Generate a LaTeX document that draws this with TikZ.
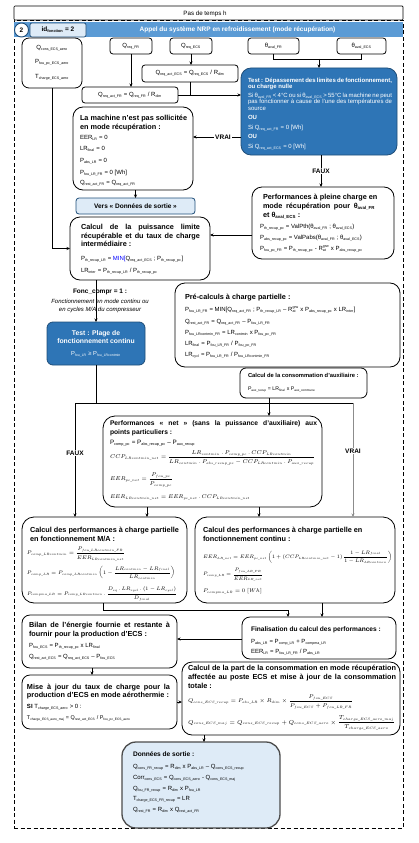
\RequirePackage{fix-cm}
\documentclass[tikz,border=0pt]{standalone}
\usepackage{amsmath}
\usepackage{graphicx}
\usepackage{fontspec}
\setmainfont{Liberation Sans}
\usetikzlibrary{arrows.meta,calc}
\renewcommand\defaultscriptratio{.6}
\renewcommand\defaultscriptscriptratio{.5}
\DeclareMathSizes{5}{5}{3}{2.5}
\DeclareMathSizes{6}{6}{3.6}{3}
\DeclareMathSizes{7}{7}{4.2}{3.5}
\definecolor{barblue}{HTML}{5B9BD5}
\definecolor{dblue}{HTML}{2E75B6}
\definecolor{dborder}{HTML}{1F4E79}
\definecolor{lblue}{HTML}{DEEBF7}
\newcommand\fs[1]{\fontsize{#1}{#1}\selectfont}
\newcommand\su[1]{\textsubscript{#1}}
\newcommand\J[2]{\makebox[#1pt][s]{#2}}
\newcommand\RB[2]{\resizebox{#1pt}{!}{$#2$}}
\newcommand\Rat{R\rlap{\su{at}}\textsuperscript{grw}}
\newcommand\TL[5][]{\node[txt,#1] (#2) at (#3,#4) {#5};}
\tikzset{
  txt/.style={anchor=base west, inner sep=0pt, outer sep=0pt, font=\fs{6}},
  ttl/.style={font=\fs{7.3}\bfseries},
  mth/.style={anchor=west, inner sep=0pt, outer sep=0pt, font=\fs{6.5}},
  bx/.style={draw=black, line width=0.8pt, anchor=north west, inner sep=0pt, outer sep=0pt},
  sbx/.style={bx, rounded corners=3pt, font=\fs{6}},
  arr/.style={-{Stealth[length=3.5pt,width=3pt]}, line width=0.7pt},
  ln/.style={line width=0.7pt},
  lbl/.style={fill=white, inner sep=1pt, font=\fs{6.5}\bfseries},
}
\begin{document}
\begin{tikzpicture}[x=1pt,y=-1pt]
\useasboundingbox (0,0) rectangle (419,843);
% frame and header
\node[bx, dash pattern=on 4pt off 2.5pt, minimum width=389pt, minimum height=808pt] (frame) at (14,20) {};
\node[bx, line width=0.7pt, rounded corners=1pt, minimum width=389pt, minimum height=14pt] (hdr) at (14,6) {};
\node[font=\fs{6.2}] (hdrt) at (205,13.5) {Pas de temps h};
\node[anchor=north west, fill=barblue, minimum width=389pt, minimum height=15pt, inner sep=0pt] (bar) at (14,22) {};
\node[font=\fs{6.5}\bfseries, text=white] (ttl) at (237.5,29.8) {Appel du système NRP en refroidissement (mode récupération)};
\node[bx, draw=dborder, fill=lblue, rounded corners=2pt, line width=0.7pt, minimum width=56pt, minimum height=14pt, font=\fs{6.5}\bfseries] (idb) at (30,23) {id\su{fonction} = 2};
\node[circle, draw=dborder, fill=white, line width=0.9pt, minimum size=14pt, inner sep=0pt, font=\fs{6.5}\bfseries] (num) at (21.5,30) {2};

% top row
\node[bx, rounded corners=7pt, minimum width=60pt, minimum height=50pt] (abox) at (22,38) {};
\node[font=\fs{6}] (a1) at (52,48) {Q\su{cons\_ECS\_aero}};
\node[font=\fs{6}] (a2) at (52,62) {P\su{fou\_pc\_ECS\_aero}};
\node[font=\fs{6}] (a3) at (52,77) {T\su{charge\_ECS\_aero}};
\node[sbx, minimum width=42pt, minimum height=16pt] (qfr) at (110,38) {Q\su{req\_FR}};
\node[sbx, minimum width=42pt, minimum height=16pt] (qecs) at (170,38) {Q\su{req\_ECS}};
\node[sbx, minimum width=51pt, minimum height=16pt] (tfr) at (248,38) {θ\su{aval\_FR}};
\node[sbx, minimum width=49pt, minimum height=16pt] (tecs) at (337,38) {θ\su{aval\_ECS}};
\node[sbx, minimum width=96pt, minimum height=17pt] (qaecs) at (142,65) {Q\su{req\_act\_ECS} = Q\su{req\_ECS} / R\su{dim}};
\node[sbx, minimum width=96pt, minimum height=16pt] (qafr) at (82,87) {Q\su{req\_act\_FR} = Q\su{req\_FR} / R\su{dim}};

% test 1
\node[bx, fill=dblue, draw=dborder, rounded corners=10pt, minimum width=156pt, minimum height=87pt] (test1) at (241,68) {};
\begin{scope}[every node/.append style={text=white, font=\fs{5}}]
\TL{t11}{248}{82}{\J{144}{\bfseries Test : Dépassement des limites de fonctionnement,}}
\TL{t12}{248}{88.5}{\bfseries ou charge nulle}
\TL{t13}{248}{97}{\J{144}{Si θ\su{aval\_FR} < 4°C ou si θ\su{aval\_ECS} > 55°C la machine ne peut}}
\TL{t14}{248}{103.5}{\J{144}{pas fonctionner à cause de l'une des températures de}}
\TL{t15}{248}{110}{source}
\TL{t16}{248}{119}{\bfseries OU}
\TL{t17}{248}{129}{Si Q\su{req\_act\_FR} = 0 [Wh]}
\TL{t18}{248}{138}{\bfseries OU}
\TL{t19}{248}{148}{Si Q\su{req\_act\_ECS} = 0 [Wh]}
\end{scope}

% machine non sollicitee
\node[bx, rounded corners=10pt, minimum width=120pt, minimum height=83pt] (mach) at (73,107) {};
\TL[ttl]{m1}{80}{120.5}{La machine n'est pas sollicitée}
\TL[ttl]{m2}{80}{129.5}{en mode récupération :}
\TL{m3}{80}{139}{EER\su{LR} = 0}
\TL{m4}{80}{150}{LR\su{final} = 0}
\TL{m5}{80}{162}{P\su{abs\_LR} = 0}
\TL{m6}{80}{174}{P\su{fou\_LR\_FR} = 0 [Wh]}
\TL{m7}{80}{184}{Q\su{rest\_act\_FR} = Q\su{req\_act\_FR}}

\node[sbx, fill=lblue, draw=dborder, minimum width=119pt, minimum height=16pt, font=\fs{6.5}\bfseries] (vers) at (76,198) {Vers « Données de sortie »};

% calcul puissance limite
\node[bx, rounded corners=10pt, minimum width=140pt, minimum height=63pt] (calc) at (70,217) {};
\TL[ttl]{c1}{81}{229.5}{\J{119}{Calcul de la puissance limite}}
\TL[ttl]{c2}{81}{238.5}{\J{119}{récupérable et du taux de charge}}
\TL[ttl]{c3}{81}{246.5}{intermédiaire :}
\TL{c4}{81}{260}{P\su{th\_recup\_LR} = {\color{blue}MIN[}Q\su{req\_act\_ECS} ; P\su{th\_recup\_pc}]}
\TL{c5}{81}{272}{LR\su{inter} = P\su{th\_recup\_LR} / P\su{th\_recup\_pc}}

% performances pleine charge
\node[bx, rounded corners=10pt, minimum width=142pt, minimum height=72pt] (perf) at (252,187) {};
\TL[ttl]{p1}{263}{199.5}{Performances à pleine charge en}
\TL[ttl]{p2}{263}{208.5}{\J{112}{mode récupération pour θ\su{aval\_FR}}}
\TL[ttl]{p3}{263}{217.5}{et θ\su{aval\_ECS} :}
\TL{p4}{260}{228}{P\su{th\_recup\_pc} = ValPth(θ\su{aval\_FR} ; θ\su{aval\_ECS})}
\TL{p5}{260}{239}{P\su{abs\_recup\_pc} = ValPabs(θ\su{aval\_FR} ; θ\su{aval\_ECS})}
\TL{p6}{260}{250}{P\su{fou\_pc\_FR} = P\su{th\_recup\_pc} - \Rat{} x P\su{abs\_recup\_pc}}

% fonc compr labels
\node[font=\fs{6.5}\bfseries] (fc1) at (100,292) {Fonc\_compr = 1 :};
\node[font=\fs{6}\itshape] (fc2) at (100,301) {Fonctionnement en mode continu ou};
\node[font=\fs{6}\itshape] (fc3) at (100,309.5) {en cycles M/A du compresseur};

% test 2
\node[bx, fill=dblue, draw=dborder, rounded corners=6pt, minimum width=98pt, minimum height=43pt] (test2) at (47,322) {};
\node[anchor=base, inner sep=0pt, text=white, font=\fs{6.8}\bfseries] (t21) at (96,335.5) {Test : Plage de};
\node[anchor=base, inner sep=0pt, text=white, font=\fs{6.8}\bfseries] (t22) at (96,343.5) {fonctionnement continu};
\node[anchor=base, inner sep=0pt, text=white, font=\fs{5.8}] (t23) at (96,355) {P\su{fou\_LR} ≥ P\su{fou\_LRcontmin}};

% pre-calculs
\node[bx, rounded corners=10pt, minimum width=225pt, minimum height=84pt] (prec) at (175,283) {};
\TL[ttl]{r1}{185}{299.5}{Pré-calculs à charge partielle :}
\begin{scope}[every node/.append style={font=\fs{6.3}}]
\TL{r2}{185}{311}{P\su{fou\_LR\_FR} = MIN[Q\su{req\_act\_FR} ; P\su{th\_recup\_LR} – \Rat{} x P\su{abs\_recup\_pc} x LR\su{inter}]}
\TL{r3}{185}{323}{Q\su{rest\_act\_FR} = Q\su{req\_act\_FR} – P\su{fou\_LR\_FR}}
\TL{r4}{185}{334}{P\su{fou\_LRcontmin\_FR} = LR\su{contmin} x P\su{fou\_pc\_FR}}
\TL{r5}{185}{345}{LR\su{final} = P\su{fou\_LR\_FR} / P\su{fou\_pc\_FR}}
\TL{r6}{185}{356}{LR\su{cycl} = P\su{fou\_LR\_FR} / P\su{fou\_LRcontmin\_FR}}
\end{scope}

% auxiliaire
\node[bx, rounded corners=6pt, minimum width=127pt, minimum height=30pt] (aux) at (240,368) {};
\TL[font=\fs{5.8}\bfseries]{x1}{248}{377}{Calcul de la consommation d'auxiliaire :}
\TL[font=\fs{5.2}]{x2}{248}{390}{P\su{aux\_recup} = LR\su{final} x P\su{aux\_commune}}

% performances net
\node[bx, rounded corners=12pt, minimum width=219pt, minimum height=91pt] (net) at (103,416) {};
\TL[font=\fs{6.7}\bfseries]{n1}{110}{425.5}{\J{207}{Performances « net » (sans la puissance d'auxiliaire) aux}}
\TL[font=\fs{6.7}\bfseries]{n2}{110}{434.5}{points particuliers :}
\TL[font=\fs{6.3}]{n3}{110}{444}{P\su{comp\_pc} = P\su{abs\_recup\_pc} – P\su{aux\_recup}}
\node[mth] (n4) at (110,458) {\RB{205}{CCP_{LRcontmin\_net}=\dfrac{LR_{contmin}\,.\,P_{comp\_pc}\,.\,CCP_{LRcontmin}}{LR_{contmin}\,.\,P_{abs\_recup\_pc}-CCP_{LRcontmin}\,.\,P_{aux\_recup}}}};
\node[mth] (n5) at (110,480) {\RB{63}{EER_{pc\_net}=\dfrac{P_{fou\_pc}}{P_{comp\_pc}}}};
\node[mth] (n6) at (110,497) {\RB{140}{EER_{LRcontmin\_net}=EER_{pc\_net}\,.\,CCP_{LRcontmin\_net}}};

% M/A
\node[bx, rounded corners=12pt, minimum width=165pt, minimum height=86pt] (ma) at (22,517) {};
\TL[ttl]{ma1}{30}{532.5}{Calcul des performances à charge partielle}
\TL[ttl]{ma2}{30}{541.5}{en fonctionnement M/A :}
\node[mth] (ma3) at (27,554) {\RB{98}{P_{comp\_LRcontmin}=\dfrac{P_{fou\_LRcontmin\_FR}}{EER_{LRcontmin\_net}}}};
\node[mth] (ma4) at (27,573) {\RB{148}{P_{comp\_LR}=P_{comp\_LRcontmin}\left(1-\dfrac{LR_{contmin}-LR_{final}}{LR_{contmin}}\right)}};
\node[mth] (ma5) at (27,594) {\RB{150}{P_{compma\_LR}=P_{comp\_LRcontmin}\,.\,\dfrac{D_{eq}\,.\,LR_{cycl}\,.\,(1-LR_{cycl})}{D_{final}}}};

% continu
\node[bx, rounded corners=12pt, minimum width=200pt, minimum height=86pt] (cont) at (195,517) {};
\TL[ttl]{co1}{203}{532.5}{Calcul des performances à charge partielle en}
\TL[ttl]{co2}{203}{541.5}{fonctionnement continu :}
\node[mth] (co3) at (203,557) {\RB{189}{EER_{LR\_net}=EER_{pc\_net}\left(1+\left(CCP_{LRcontmin\_net}-1\right)\dfrac{1-LR_{final}}{1-LR_{LRcontmin}}\right)}};
\node[mth] (co4) at (203,575) {\RB{60}{P_{comp\_LR}=\dfrac{P_{fou\_LR\_FR}}{EER_{LR\_net}}}};
\node[mth] (co5) at (203,591) {\RB{59}{P_{compma\_LR}=0\;[Wh]}};

% finalisation
\node[bx, rounded corners=8pt, minimum width=154pt, minimum height=42pt] (fin) at (242,617) {};
\TL[font=\fs{6.6}\bfseries]{f1}{251}{631.5}{Finalisation du calcul des performances :}
\TL{f2}{251}{643}{P\su{abs\_LR} = P\su{comp\_LR} + P\su{compma\_LR}}
\TL{f3}{251}{653}{EER\su{LR} = P\su{fou\_LR\_FR} / P\su{abs\_LR}}

% bilan
\node[bx, rounded corners=8pt, minimum width=155pt, minimum height=53pt] (bilan) at (22,615) {};
\TL[ttl]{b1}{29}{627.5}{\J{141}{Bilan de l'énergie fournie et restante à}}
\TL[ttl]{b2}{29}{636.5}{fournir pour la production d'ECS :}
\TL{b3}{29}{647}{P\su{fou\_ECS} = P\su{th\_recup\_pc} x LR\su{final}}
\TL{b4}{29}{658.5}{Q\su{rest\_act\_ECS} = Q\su{req\_act\_ECS} – P\su{fou\_ECS}}

% mise a jour
\node[bx, rounded corners=8pt, minimum width=155pt, minimum height=54pt] (maj) at (22,675) {};
\TL[ttl]{j1}{27}{689}{\J{143}{Mise à jour du taux de charge pour la}}
\TL[ttl]{j2}{27}{697.5}{production d'ECS en mode aérothermie :}
\TL{j3}{27}{708.5}{{\bfseries SI} T\su{charge\_ECS\_aero} > 0 :}
\TL[font=\fs{5.4}]{j4}{27}{719.5}{T\su{charge\_ECS\_aero\_maj} = Q\su{rest\_act\_ECS} / P\su{fou\_pc\_ECS\_aero}}

% part ECS
\node[bx, rounded corners=10pt, minimum width=218pt, minimum height=73pt] (part) at (182,662) {};
\TL[ttl]{q1}{188}{670.5}{\J{208}{Calcul de la part de la consommation en mode récupération}}
\TL[ttl]{q2}{188}{679.5}{\J{208}{affectée au poste ECS et mise à jour de la consommation}}
\TL[ttl]{q3}{188}{688}{totale :}
\node[mth] (q4) at (188,702) {\RB{165}{Q_{cons\_ECS\_recup}=P_{abs\_LR}\times R_{dim}\times\dfrac{P_{fou\_ECS}}{P_{fou\_ECS}+P_{fou\_LR\_FR}}}};
\node[mth] (q5) at (188,723) {\RB{207}{Q_{cons\_ECS\_maj}=Q_{cons\_ECS\_recup}+Q_{cons\_ECS\_aero}\times\dfrac{T_{charge\_ECS\_aero\_maj}}{T_{charge\_ECS\_aero}}}};

% donnees de sortie
\node[bx, fill=lblue, draw=black!70, line width=1.3pt, rounded corners=14pt, minimum width=158pt, minimum height=86pt] (out) at (122,742) {};
\TL[font=\fs{6.6}\bfseries]{o1}{133}{756}{Données de sortie :}
\TL{o2}{133}{768}{Q\su{cons\_FR\_recup} = R\su{dim} x P\su{abs\_LR} – Q\su{cons\_ECS\_recup}}
\TL{o3}{133}{779}{Corr\su{cons\_ECS} = Q\su{cons\_ECS\_aero} - Q\su{cons\_ECS\_maj}}
\TL{o4}{133}{790}{Q\su{fou\_FR\_recup} = R\su{dim} x P\su{fou\_LR}}
\TL{o5}{133}{800.5}{T\su{charge\_ECS\_FR\_recup} = LR}
\TL{o6}{133}{811}{Q\su{rest\_FR} = R\su{dim} x Q\su{rest\_act\_FR}}

% ---------- connectors ----------
\draw[arr] (qfr.south) -- (qfr.south |- qafr.north);
\draw[arr] (qecs.south) -- (qecs.south |- qaecs.north);
\coordinate (tj) at (319,59);
\draw[ln] (tfr.south) -- (tfr.south |- tj) -- (tecs.south |- tj) -- (tecs.south);
\draw[arr] (tj) -- (tj |- test1.north);
\coordinate (j1) at (190,95);
\draw[ln] (qaecs.south) -- (qaecs.south |- j1);
\draw[arr] (qafr.east) -- (qafr.east -| test1.west);
\coordinate (v1) at (241,137);
\draw[arr] (v1) -- (v1 -| mach.east) node[lbl, pos=0.375] (vrai1) {VRAI};
\draw[arr] (vers.north |- mach.south) -- (vers.north);
\draw[arr] (abox.south) |- (calc.west);
\coordinate (fx) at (321,0);
\draw[arr] (fx |- test1.south) -- (fx |- perf.north) node[lbl, midway] (faux1) {FAUX};
\coordinate (p0) at (252,235);
\draw[arr] (p0) -- (p0 -| calc.east);
\draw[arr] (test2.north |- calc.south) -- (test2.north);
\coordinate (b0) at (96,403);
\coordinate (bL) at (75,403);
\coordinate (bR) at (353,403);
\draw[ln] (test2.south) -- (b0);
\draw[ln] (bL) -- (bR);
\draw[arr] (bL) -- (bL |- ma.north) node[lbl, pos=0.44] (faux2) {FAUX};
\draw[arr, draw=black!45] (bR) -- (bR |- cont.north) node[lbl, pos=0.42] (vrai2) {VRAI};
\coordinate (ax) at (269,0);
\draw[arr] (ax |- aux.south) -- (ax |- net.north);
\coordinate (nL) at (147,0);
\coordinate (nR) at (259,0);
\draw[arr] (nL |- net.south) -- (nL |- ma.north);
\draw[arr] (nR |- net.south) -- (nR |- cont.north);
\coordinate (mj) at (103,610);
\coordinate (mk) at (288,0);
\draw[arr] (mj |- ma.south) -- (mj) -- (mk |- mj) -- (mk |- fin.north);
\coordinate (ck) at (322,0);
\draw[arr] (ck |- cont.south) -- (ck |- fin.north);
\coordinate (fy) at (0,639);
\draw[arr] (fy -| fin.west) -- (fy -| bilan.east);
\coordinate (bx0) at (92,0);
\draw[arr] (bx0 |- bilan.south) -- (bx0 |- maj.north);
\coordinate (my) at (0,702);
\draw[arr] (my -| maj.east) -- (my -| part.west);
\coordinate (ox) at (204,0);
\draw[arr] (ox |- part.south) -- (ox |- out.north);
\end{tikzpicture}
\end{document}
